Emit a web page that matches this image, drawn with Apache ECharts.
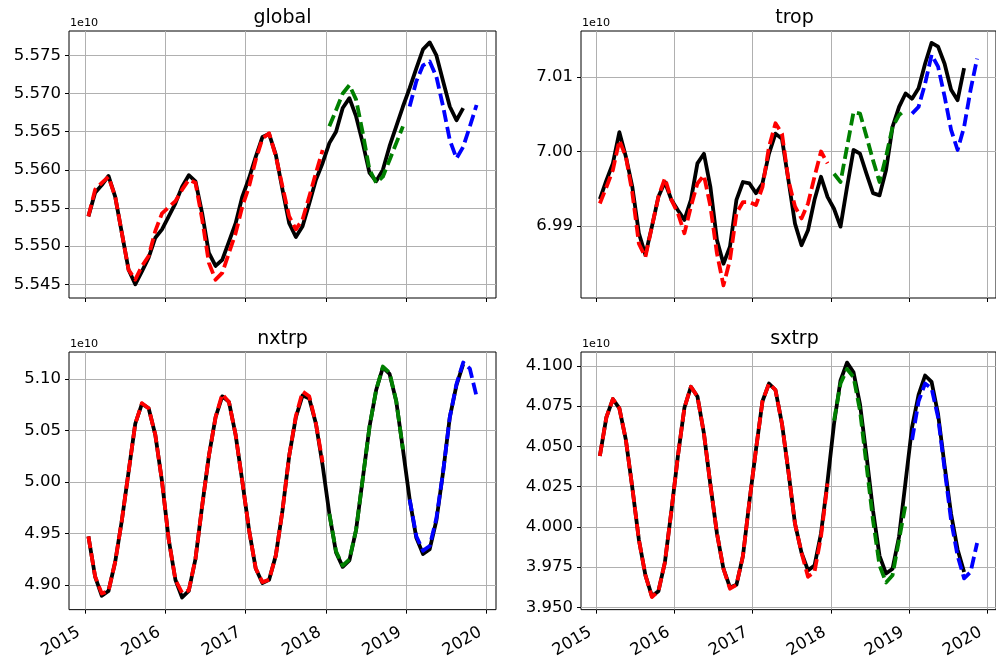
<!DOCTYPE html>
<html>
<head>
<meta charset="utf-8">
<script src="https://cdn.jsdelivr.net/npm/echarts@6/dist/echarts.min.js"></script>
<style>
  html, body { margin: 0; padding: 0; background: #fff; }
  #echart { width: 996px; height: 661px; }
</style>
</head>
<body>
<div id="echart"></div>
<script>
// monthly values (1e10), first point = Jan 2015
var panelNames = ['global', 'trop', 'nxtrp', 'sxtrp'];
var yearTicks = [2015, 2016, 2017, 2018, 2019, 2020];

var globalObs = [5.5539, 5.5570, 5.5580, 5.5592, 5.5565, 5.5517, 5.5469, 5.5450, 5.5467, 5.5485, 5.5511, 5.5522,
  5.5539, 5.5556, 5.5578, 5.5593, 5.5585, 5.5543, 5.5491, 5.5474, 5.5482, 5.5506, 5.5530, 5.5565,
  5.5589, 5.5617, 5.5643, 5.5647, 5.5620, 5.5574, 5.5530, 5.5512, 5.5526, 5.5556, 5.5587, 5.5609,
  5.5635, 5.5650, 5.5681, 5.5694, 5.5670, 5.5635, 5.5596, 5.5585, 5.5600, 5.5631, 5.5657, 5.5683,
  5.5707, 5.5733, 5.5758, 5.5767, 5.5750, 5.5716, 5.5683, 5.5665, 5.5681];
var globalFc1517 = [5.5539, 5.5574, 5.5583, 5.5591, 5.5565, 5.5517, 5.5469, 5.5456, 5.5474, 5.5487, 5.5520, 5.5543,
  5.5551, 5.5559, 5.5574, 5.5587, 5.5583, 5.5535, 5.5478, 5.5456, 5.5465, 5.5491, 5.5517, 5.5552,
  5.5578, 5.5613, 5.5641, 5.5648, 5.5618, 5.5578, 5.5539, 5.5522, 5.5535, 5.5565, 5.5596, 5.5626];
var globalFc18 = [5.5657, 5.5678, 5.5700, 5.5711, 5.5692, 5.5648, 5.5600, 5.5583, 5.5591, 5.5613, 5.5635, 5.5657];
var globalFc19 = [5.5683, 5.5716, 5.5737, 5.5742, 5.5722, 5.5683, 5.5639, 5.5615, 5.5630, 5.5657, 5.5685];

var tropObs = [6.9936, 6.9961, 6.9984, 7.0026, 6.9993, 6.9952, 6.9890, 6.9861, 6.9899, 6.9939, 6.9959, 6.9935,
  6.9921, 6.9908, 6.9935, 6.9984, 6.9997, 6.9952, 6.9881, 6.9849, 6.9872, 6.9935, 6.9959, 6.9957,
  6.9944, 6.9957, 6.9997, 7.0024, 7.0017, 6.9961, 6.9903, 6.9874, 6.9894, 6.9935, 6.9966, 6.9939,
  6.9923, 6.9899, 6.9952, 7.0002, 6.9997, 6.9970, 6.9944, 6.9941, 6.9975, 7.0033, 7.0060, 7.0078,
  7.0071, 7.0085, 7.0118, 7.0146, 7.0141, 7.0118, 7.0083, 7.0069, 7.0112];
var tropFc1517 = [6.9930, 6.9952, 6.9975, 7.0015, 6.9993, 6.9944, 6.9876, 6.9858, 6.9899, 6.9939, 6.9964, 6.9935,
  6.9917, 6.9890, 6.9926, 6.9957, 6.9968, 6.9926, 6.9863, 6.9820, 6.9854, 6.9917, 6.9932, 6.9932,
  6.9928, 6.9952, 7.0006, 7.0038, 7.0024, 6.9961, 6.9926, 6.9910, 6.9930, 6.9966, 7.0000, 6.9984];
var tropFc18 = [6.9970, 6.9959, 7.0006, 7.0053, 7.0051, 7.0020, 6.9988, 6.9959, 6.9993, 7.0033, 7.0049, 7.0056];
var tropFc19 = [7.0051, 7.0060, 7.0091, 7.0130, 7.0114, 7.0074, 7.0029, 7.0002, 7.0033, 7.0083, 7.0125];

var nxtrpObs = [4.9474, 4.9084, 4.8897, 4.8944, 4.9225, 4.9630, 5.0098, 5.0566, 5.0760, 5.0716, 5.0457, 5.0005,
  4.9443, 4.9053, 4.8881, 4.8944, 4.9256, 4.9771, 5.0254, 5.0629, 5.0832, 5.0778, 5.0457, 5.0005,
  4.9537, 4.9162, 4.9022, 4.9053, 4.9287, 4.9724, 5.0254, 5.0629, 5.0841, 5.0810, 5.0566, 5.0161,
  4.9693, 4.9318, 4.9178, 4.9240, 4.9537, 5.0036, 5.0535, 5.0894, 5.1112, 5.1050, 5.0785, 5.0317,
  4.9833, 4.9459, 4.9303, 4.9350, 4.9630, 5.0098, 5.0629, 5.0941, 5.1144];
var nxtrpFc1517 = [4.9474, 4.9084, 4.8919, 4.8944, 4.9225, 4.9630, 5.0098, 5.0566, 5.0766, 5.0716, 5.0457, 5.0005,
  4.9443, 4.9053, 4.8925, 4.8950, 4.9256, 4.9771, 5.0254, 5.0629, 5.0853, 5.0778, 5.0457, 5.0005,
  4.9537, 4.9162, 4.9030, 4.9053, 4.9287, 4.9724, 5.0254, 5.0640, 5.0878, 5.0832, 5.0566, 5.0192];
var nxtrpFc18 = [4.9693, 4.9330, 4.9190, 4.9250, 4.9537, 5.0036, 5.0535, 5.0894, 5.1121, 5.1060, 5.0785, 5.0317];
var nxtrpFc19 = [4.9833, 4.9475, 4.9335, 4.9380, 4.9650, 5.0098, 5.0629, 5.0950, 5.1160, 5.1100, 5.0831];

var sxtrpObs = [4.0440, 4.0680, 4.0794, 4.0736, 4.0540, 4.0240, 3.9920, 3.9700, 3.9570, 3.9600, 3.9780, 4.0100,
  4.0440, 4.0740, 4.0870, 4.0810, 4.0580, 4.0260, 3.9960, 3.9740, 3.9624, 3.9640, 3.9820, 4.0160,
  4.0480, 4.0780, 4.0890, 4.0850, 4.0640, 4.0340, 4.0020, 3.9840, 3.9730, 3.9760, 3.9960, 4.0280,
  4.0640, 4.0910, 4.1020, 4.0960, 4.0760, 4.0440, 4.0100, 3.9820, 3.9710, 3.9740, 3.9940, 4.0280,
  4.0620, 4.0820, 4.0940, 4.0900, 4.0700, 4.0380, 4.0080, 3.9860, 3.9720];
var sxtrpFc1517 = [4.0440, 4.0680, 4.0794, 4.0736, 4.0540, 4.0240, 3.9920, 3.9700, 3.9564, 3.9600, 3.9780, 4.0100,
  4.0440, 4.0740, 4.0870, 4.0810, 4.0580, 4.0260, 3.9960, 3.9740, 3.9616, 3.9640, 3.9820, 4.0160,
  4.0480, 4.0780, 4.0890, 4.0850, 4.0640, 4.0340, 4.0020, 3.9840, 3.9690, 3.9720, 3.9940, 4.0270];
var sxtrpFc18 = [4.0660, 4.0890, 4.0980, 4.0930, 4.0720, 4.0380, 4.0040, 3.9760, 3.9655, 3.9700, 3.9920, 4.0140];
var sxtrpFc19 = [4.0540, 4.0780, 4.0890, 4.0860, 4.0680, 4.0360, 4.0040, 3.9820, 3.9680, 3.9720, 3.9900];

var globalTicks = [5.545, 5.550, 5.555, 5.560, 5.565, 5.570, 5.575];
var tropTicks = [6.99, 7.00, 7.01];
var nxtrpTicks = [4.90, 4.95, 5.00, 5.05, 5.10];
var sxtrpTicks = [3.950, 3.975, 4.000, 4.025, 4.050, 4.075, 4.100];

function drawPanels() {
  if (typeof (echarts) === 'undefined') { console.log('echarts is undefined'); return; }
  var chart = echarts.init(document.getElementById('echart'));
  var font = 'DejaVu Sans';

  var obs = [globalObs, tropObs, nxtrpObs, sxtrpObs];
  var fc1517 = [globalFc1517, tropFc1517, nxtrpFc1517, sxtrpFc1517];
  var fc18 = [globalFc18, tropFc18, nxtrpFc18, sxtrpFc18];
  var fc19 = [globalFc19, tropFc19, nxtrpFc19, sxtrpFc19];
  var ticks = [globalTicks, tropTicks, nxtrpTicks, sxtrpTicks];
  var decimals = [3, 2, 2, 3];
  var yRange = [[5.5432, 5.5782], [6.9803, 7.0162], [4.8763, 5.1262], [3.9486, 4.1086]];
  var boxes = [[69, 31], [581, 31], [69, 352], [581, 352]];
  var boxW = 427, boxH = 267;

  // month index -> decimal year (mid month)
  function toPoints(vals, first) {
    return vals.map(function (v, k) { return [2015 + (first + k + 0.5) / 12, v]; });
  }

  var grids = [], xAxes = [], yAxes = [], series = [], graphics = [];
  for (var p = 0; p < 4; p++) {
    var bottomRow = p >= 2;
    grids.push({
      left: boxes[p][0], top: boxes[p][1], width: boxW, height: boxH,
      show: true, borderColor: '#000', borderWidth: 1, backgroundColor: 'transparent'
    });
    xAxes.push({
      type: 'value', gridIndex: p, min: 2014.8, max: 2020.117,
      axisLine: { show: false },
      axisTick: { show: true, length: 4, customValues: yearTicks, lineStyle: { color: '#000' } },
      splitLine: { show: true, lineStyle: { color: '#b0b0b0', width: 1 } },
      axisLabel: {
        show: bottomRow, customValues: yearTicks, rotate: 30, margin: 18, padding: [0, 7, 0, 0],
        fontSize: 16.5, fontFamily: font, color: '#000',
        formatter: function (v) { return String(Math.round(v)); }
      }
    });
    (function (d) {
      yAxes.push({
        type: 'value', gridIndex: p, min: yRange[p][0], max: yRange[p][1],
        axisLine: { show: false },
        axisTick: { show: true, length: 4, customValues: ticks[p], lineStyle: { color: '#000' } },
        splitLine: { show: true, lineStyle: { color: '#b0b0b0', width: 1 } },
        axisLabel: {
          customValues: ticks[p], margin: 8, fontSize: 16.5, fontFamily: font, color: '#000',
          formatter: function (v) { return v.toFixed(d); }
        }
      });
    })(decimals[p]);

    var lines = [
      { data: toPoints(obs[p], 0), color: '#000', type: 'solid' },
      { data: toPoints(fc1517[p], 0), color: '#ff0000', type: [12, 5] },
      { data: toPoints(fc18[p], 36), color: '#008000', type: [12, 5] },
      { data: toPoints(fc19[p], 48), color: '#0000ff', type: [12, 5] }
    ];
    lines.forEach(function (l) {
      series.push({
        type: 'line', xAxisIndex: p, yAxisIndex: p, data: l.data,
        showSymbol: false, symbol: 'none', silent: true,
        lineStyle: { color: l.color, width: 3.8, type: l.type, join: 'round' }
      });
    });

    graphics.push({
      type: 'text', x: boxes[p][0] + boxW / 2, y: boxes[p][1] - 13,
      style: { text: panelNames[p], fontSize: 19, fontFamily: font, fill: '#000',
        align: 'center', textAlign: 'center', verticalAlign: 'middle', textVerticalAlign: 'middle' }
    });
    graphics.push({
      type: 'text', x: boxes[p][0] + 1, y: boxes[p][1] - 8,
      style: { text: '1e10', fontSize: 11.2, fontFamily: font, fill: '#000',
        align: 'left', textAlign: 'left', verticalAlign: 'middle', textVerticalAlign: 'middle' }
    });
  }

  chart.setOption({
    animation: false,
    grid: grids,
    xAxis: xAxes,
    yAxis: yAxes,
    series: series,
    graphic: graphics
  });
}
drawPanels();
</script>
</body>
</html>
